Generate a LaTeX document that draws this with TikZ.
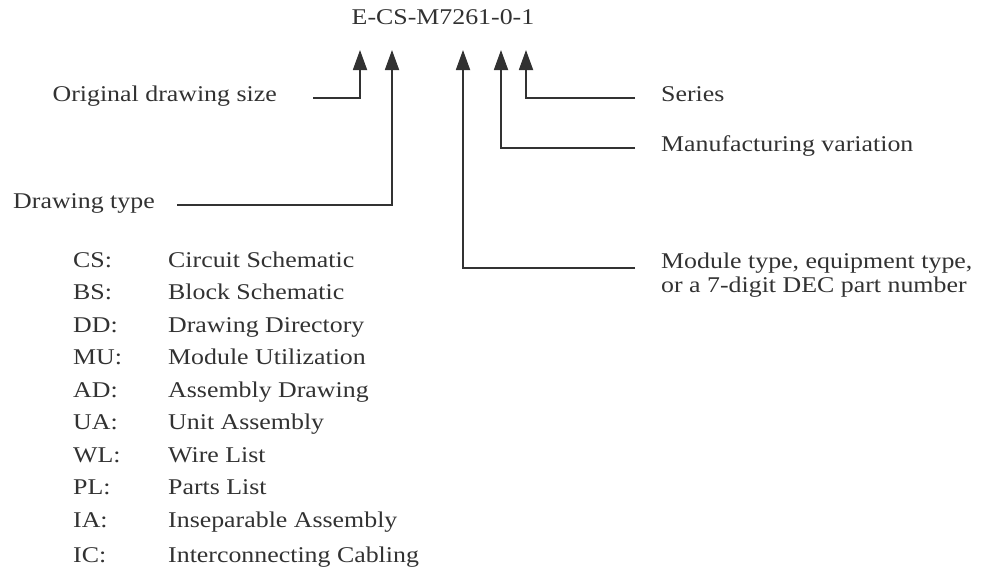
\documentclass[tikz,border=0pt]{standalone}
\usepackage{fontspec}
\setmainfont{Liberation Serif}[FakeStretch=1.15]
\usetikzlibrary{arrows.meta}
\definecolor{ink}{RGB}{50,50,50}
\begin{document}
\begin{tikzpicture}[x=1pt,y=-1pt,
  lbl/.style={inner sep=0pt, text=ink, font=\fontsize{22.5}{24}\selectfont, text height=0.66em, text depth=0pt},
  multi/.style={inner sep=0pt, text=ink, font=\fontsize{22.5}{23.5}\selectfont, align=left},
  lead/.style={draw=ink, line width=1.8pt, -{Triangle[length=20pt,width=14pt]}}]
\path[use as bounding box] (0,0) rectangle (989,582);
% title
\node[lbl] (code) at (443,21) {E-CS-M7261-0-1};
% arrow tips
\coordinate (t1) at (360,50);
\coordinate (t2) at (392,50);
\coordinate (t3) at (463,50);
\coordinate (t4) at (501,50);
\coordinate (t5) at (526,50);
% left labels
\node[lbl,anchor=east] (orig) at (277,98) {Original drawing size};
\draw[lead] ([xshift=36pt]orig.east) -| (t1);
\node[lbl,anchor=east] (dtype) at (155,205) {Drawing type};
\draw[lead] ([xshift=22pt]dtype.east) -| (t2);
% right labels
\node[lbl,anchor=west] (ser) at (661,98) {Series};
\draw[lead] ([xshift=-26pt]ser.west) -| (t5);
\node[lbl,anchor=west] (manu) at (661,148) {Manufacturing variation};
\draw[lead] ([xshift=-26pt]manu.west) -| (t4);
\node[multi,anchor=west] (mod) at (661,275) {Module type, equipment type,\\or a 7-digit DEC part number};
\draw[lead] ([xshift=-26pt,yshift=7pt]mod.west) -| (t3);
% list of drawing types
\foreach \c/\d/\y [count=\i] in {CS/Circuit Schematic/264, BS/Block Schematic/296.5,
  DD/Drawing Directory/329, MU/Module Utilization/361.5, AD/Assembly Drawing/394,
  UA/Unit Assembly/426.5, WL/Wire List/459, PL/Parts List/491.5,
  IA/Inseparable Assembly/524, IC/Interconnecting Cabling/559}{
  \node[lbl,anchor=west] (c\i) at (73,\y) {\c:};
  \node[lbl,anchor=west] (d\i) at (168,\y) {\d};
}
\end{tikzpicture}
\end{document}
